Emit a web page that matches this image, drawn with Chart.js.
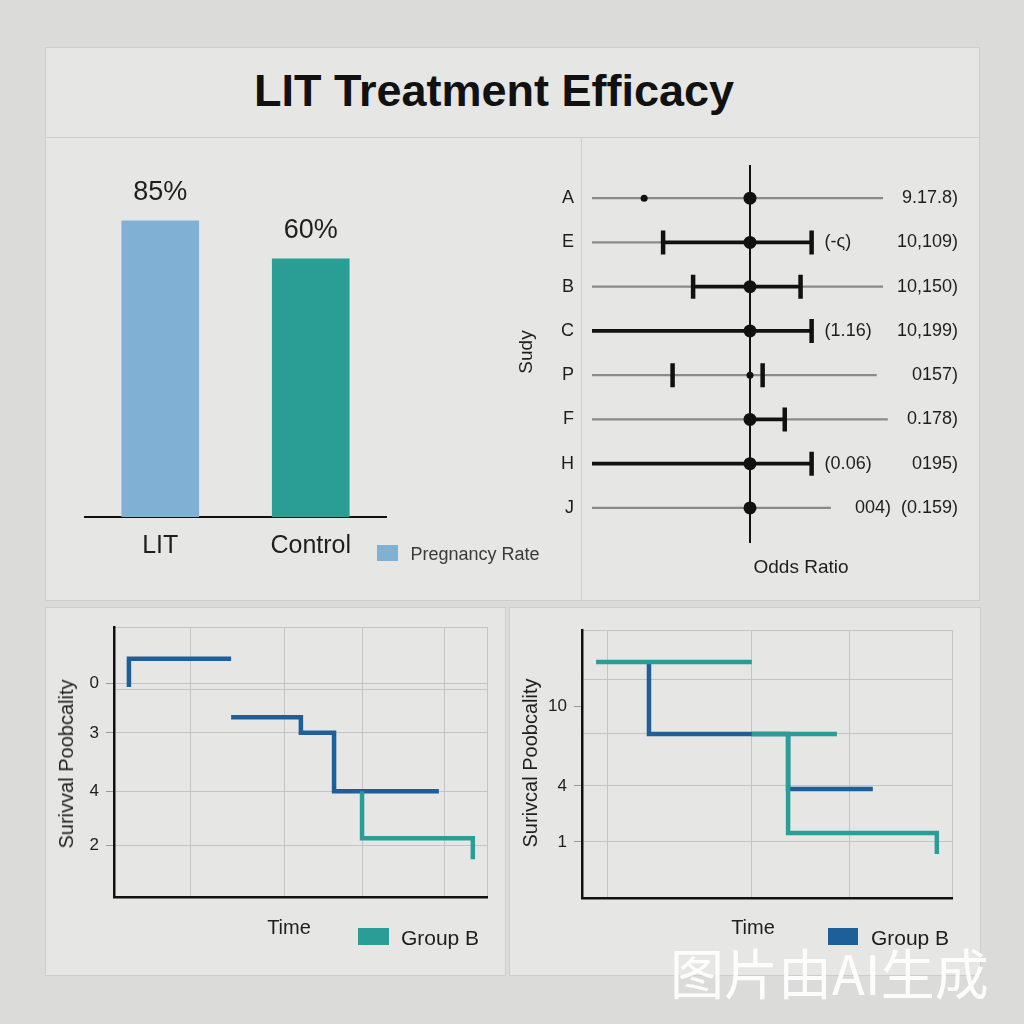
<!DOCTYPE html>
<html lang="en">
<head>
<meta charset="UTF-8">
<title>LIT Treatment Efficacy</title>
<script src="https://cdn.jsdelivr.net/npm/chart.js"></script>
<style>
    body {
        margin: 0;
        width: 1024px;
        height: 1024px;
        background: #dbdbda;
        font-family: 'Liberation Sans', Arial, sans-serif;
        color: #1e1e1e;
        position: relative;
        overflow: hidden;
    }
    .panel {
        position: absolute;
        background: #e6e6e4;
        border: 1px solid #cdcdcb;
        box-sizing: border-box;
    }
    .rule { position: absolute; background: #cdcdcb; }
    .txt {
        position: absolute;
        white-space: nowrap;
        line-height: 1;
        transform: translate(-50%, -50%);
    }
    .rot { transform: translate(-50%, -50%) rotate(-90deg); }
    .swatch { position: absolute; }
    canvas { position: absolute; }
    #title { left: 494px; top: 90px; font-size: 45px; font-weight: bold; color: #111; }
    #mark {
        position: absolute; left: 670px; top: 942px;
        font-family: 'Noto Sans CJK SC', sans-serif; font-size: 54px;
        color: rgba(255, 255, 255, 0.92); white-space: nowrap; line-height: 1.1;
    }
</style>
</head>
<body>

<div class="panel" style="left:45px; top:47px; width:935px; height:554px;"></div>
<div class="rule" style="left:46px; top:137px; width:933px; height:1px;"></div>
<div class="rule" style="left:581px; top:138px; width:1px; height:462px;"></div>
<div class="panel" style="left:45px; top:607px; width:461px; height:369px;"></div>
<div class="panel" style="left:509px; top:607px; width:472px; height:369px;"></div>

<div class="txt" id="title">LIT Treatment Efficacy</div>

<canvas id="barChart" width="534" height="461" style="left:46px; top:138px;"></canvas>
<canvas id="forestChart" width="479" height="461" style="left:500px; top:138px;"></canvas>
<canvas id="survLeft" width="458" height="366" style="left:46px; top:608px;"></canvas>
<canvas id="survRight" width="469" height="366" style="left:510px; top:608px;"></canvas>

<!-- legend + axis titles -->
<div class="swatch" style="left:377px; top:545px; width:21px; height:16px; background:#80b0d3;"></div>
<div class="txt" style="left:475px; top:554px; font-size:18px; color:#3a3a3a;">Pregnancy Rate</div>

<div class="txt rot" style="left:525px; top:352px; font-size:19px;">Sudy</div>
<div class="txt" style="left:801px; top:566px; font-size:19px;">Odds Ratio</div>

<div class="txt rot" style="left:66px; top:764px; font-size:20px;">Surivval Poobcality</div>
<div class="txt" style="left:289px; top:927px; font-size:20px;">Time</div>
<div class="swatch" style="left:358px; top:928px; width:31px; height:17px; background:#2a9d96;"></div>
<div class="txt" style="left:440px; top:937px; font-size:21px;">Group B</div>

<div class="txt rot" style="left:530px; top:763px; font-size:20px;">Surivcal Poobcality</div>
<div class="txt" style="left:753px; top:927px; font-size:20px;">Time</div>
<div class="swatch" style="left:828px; top:928px; width:30px; height:17px; background:#1f5f99;"></div>
<div class="txt" style="left:910px; top:937px; font-size:21px;">Group B</div>

<div id="mark">图片由AI生成</div>

<script>
    // bar panel
    const groups = ['LIT', 'Control'];
    const pregnancyRate = [85, 60];

    // forest panel
    const studies = ['A', 'E', 'B', 'C', 'P', 'F', 'H', 'J'];
    const oddsRatio = [1, 1, 1, 1, null, 1, 1, 1];
    const smallMarks = [{ study: 'A', value: 0.33 }, { study: 'P', value: 1.0 }];
    const refLow = [0, 0, 0, null, 0, 0, null, 0];
    const refHigh = [1.84, 0.45, 1.84, null, 1.80, 1.87, null, 1.51];
    const ciLow = [null, 0.45, 0.64, 0, null, 1.0, 0, null];
    const ciHigh = [null, 1.39, 1.32, 1.39, null, 1.22, 1.39, null];
    const capLow = [null, 0.45, 0.64, null, 0.51, null, null, null];
    const capHigh = [null, 1.39, 1.32, 1.39, 1.08, 1.22, 1.39, null];
    const ciNotes = [null, '(-ς)', null, '(1.16)', null, null, '(0.06)', null];
    const studyValues = ['9.17.8)', '10,109)', '10,150)', '10,199)', '0157)', '0.178)', '0195)', '004)  (0.159)'];
    const noEffect = 1;

    // survival panel, left
    const leftTimeA = [0.40, 0.40, 3.14, 3.14, 3.14, 5.01, 5.01, 5.90, 5.90, 8.71];
    const leftSurvA = [3.89, 4.41, 4.41, null, 3.33, 3.33, 3.04, 3.04, 1.96, 1.96];
    const leftTimeB = [6.65, 6.65, 9.62, 9.62];
    const leftSurvB = [1.96, 1.09, 1.09, 0.70];
    const leftTimeGrid = [2.06, 4.58, 6.65, 8.85, 10];
    const leftSurvGrid = [0.96, 1.96, 3.04, 3.85, 3.96, 5];
    const leftSurvTickPos = [0.96, 1.96, 3.04, 3.96];
    const leftSurvTickText = ['2', '4', '3', '0'];

    // survival panel, right
    const rightTimeA = [0.38, 4.59, 4.59, 4.59, 6.89, 6.89, 5.57, 5.57, 9.59, 9.59];
    const rightSurvA = [8.81, 8.81, null, 6.12, 6.12, null, 6.12, 2.43, 2.43, 1.64];
    const rightTimeB = [1.81, 1.81, 5.57, 5.57, 7.86];
    const rightSurvB = [8.81, 6.12, 6.12, 4.07, 4.07];
    const rightTimeGrid = [0.70, 4.59, 7.24, 10];
    const rightSurvGrid = [2.09, 4.18, 6.12, 8.17, 10];
    const rightSurvTickPos = [2.09, 4.18, 7.16];
    const rightSurvTickText = ['1', '4', '10'];

    const BLUE = '#1f5f99';
    const TEAL = '#2a9d96';
    const INK = '#1e1e1e';

    Chart.defaults.font.family = "'Liberation Sans', Arial, sans-serif";
    Chart.defaults.color = INK;

    // ---------- bar chart ----------
    const valueLabels = {
        id: 'valueLabels',
        afterDatasetsDraw(chart) {
            const ctx = chart.ctx;
            ctx.save();
            ctx.font = "27px 'Liberation Sans', Arial, sans-serif";
            ctx.fillStyle = INK;
            ctx.textAlign = 'center';
            ctx.textBaseline = 'middle';
            chart.getDatasetMeta(0).data.forEach((bar, i) => {
                ctx.fillText(pregnancyRate[i] + '%', bar.x, bar.y - 28);
            });
            ctx.restore();
        }
    };

    new Chart(document.getElementById('barChart'), {
        type: 'bar',
        data: {
            labels: groups,
            datasets: [{
                label: 'Pregnancy Rate',
                data: pregnancyRate,
                backgroundColor: ['#80b0d3', '#2a9d94'],
                base: -110,
                barThickness: 77
            }]
        },
        options: {
            responsive: false,
            animation: false,
            layout: { padding: { left: 39, right: 194, top: 22, bottom: 0 } },
            plugins: { legend: { display: false }, tooltip: { enabled: false } },
            scales: {
                x: {
                    grid: { display: false, drawTicks: false },
                    border: { display: true, color: '#111', width: 2 },
                    ticks: { font: { size: 25 }, color: INK, padding: 14 },
                    afterFit: s => { s.height = 82; }
                },
                y: { display: false, min: -110, max: 125 }
            }
        },
        plugins: [valueLabels]
    });

    // ---------- forest plot ----------
    const forestExtras = {
        id: 'forestExtras',
        beforeDatasetsDraw(chart) {
            const { ctx, chartArea, scales } = chart;
            const px = scales.x.getPixelForValue(noEffect);
            ctx.save();
            ctx.strokeStyle = '#111';
            ctx.lineWidth = 2;
            ctx.beginPath();
            ctx.moveTo(px, chartArea.top - 11);
            ctx.lineTo(px, chartArea.bottom + 13);
            ctx.stroke();
            ctx.restore();
        },
        afterDatasetsDraw(chart) {
            const { ctx, chartArea, scales } = chart;
            ctx.save();
            ctx.font = "18px 'Liberation Sans', Arial, sans-serif";
            ctx.fillStyle = INK;
            ctx.textBaseline = 'middle';
            studies.forEach((s, i) => {
                const py = scales.y.getPixelForValue(i);
                if (ciNotes[i]) {
                    ctx.textAlign = 'left';
                    ctx.fillText(ciNotes[i], scales.x.getPixelForValue(ciHigh[i]) + 13, py);
                }
                ctx.textAlign = 'right';
                ctx.fillText(studyValues[i], chartArea.right + 50, py);
            });
            ctx.restore();
        }
    };

    const pts = (vals) => vals.map((v, i) => v == null ? null : { x: v, y: studies[i] }).filter(p => p);

    new Chart(document.getElementById('forestChart'), {
        type: 'bar',
        data: {
            labels: studies,
            datasets: [
                {
                    type: 'line', showLine: false,
                    data: pts(oddsRatio),
                    pointRadius: 6.5, pointBackgroundColor: '#111', pointBorderWidth: 0
                },
                {
                    type: 'line', showLine: false,
                    data: smallMarks.map(m => ({ x: m.value, y: m.study })),
                    pointRadius: 3.5, pointBackgroundColor: '#111', pointBorderWidth: 0
                },
                {
                    type: 'line', showLine: false,
                    data: pts(capLow).concat(pts(capHigh)),
                    pointStyle: 'line', rotation: 90, pointRadius: 12,
                    pointBorderColor: '#111', pointBorderWidth: 4.5
                },
                {
                    type: 'bar', indexAxis: 'y', grouped: false,
                    data: ciLow.map((lo, i) => lo == null ? null : [lo, ciHigh[i]]),
                    backgroundColor: '#111', barThickness: 3
                },
                {
                    type: 'bar', indexAxis: 'y', grouped: false,
                    data: refLow.map((lo, i) => lo == null ? null : [lo, refHigh[i]]),
                    backgroundColor: '#8a8a8a', barThickness: 1.5
                }
            ]
        },
        options: {
            responsive: false,
            animation: false,
            layout: { padding: { left: 0, right: 71, top: 38, bottom: 69 } },
            plugins: { legend: { display: false }, tooltip: { enabled: false } },
            scales: {
                x: { type: 'linear', min: 0, max: 2, offset: false, display: false },
                y: {
                    type: 'category', offset: true,
                    grid: { display: false, drawTicks: false },
                    border: { display: false },
                    ticks: { font: { size: 18 }, color: INK, padding: 18 },
                    afterFit: s => { s.width = 92; }
                }
            }
        },
        plugins: [forestExtras]
    });

    // ---------- survival curves ----------
    function survivalChart(id, cfg) {
        const allY = Array.from(new Set(cfg.survGrid.concat(cfg.tickPos))).sort((a, b) => a - b);
        const line = (t, s, color) => ({
            type: 'line',
            data: t.map((v, i) => ({ x: v, y: s[i] })),
            borderColor: color, borderWidth: 4.5, pointRadius: 0,
            spanGaps: false, tension: 0, borderJoinStyle: 'miter', borderCapStyle: 'butt'
        });
        new Chart(document.getElementById(id), {
            type: 'line',
            data: { datasets: cfg.series.map(s => line(s.t, s.s, s.color)) },
            options: {
                responsive: false,
                animation: false,
                layout: { padding: cfg.padding },
                plugins: { legend: { display: false }, tooltip: { enabled: false } },
                scales: {
                    x: {
                        type: 'linear', min: 0, max: 10,
                        afterBuildTicks: s => { s.ticks = cfg.timeGrid.map(v => ({ value: v })); },
                        afterFit: s => { s.height = cfg.xHeight; },
                        ticks: { display: false },
                        grid: { color: '#c4c4c4', drawTicks: false },
                        border: { color: '#111', width: 2.5 }
                    },
                    y: {
                        type: 'linear', min: 0, max: cfg.yMax,
                        afterBuildTicks: s => { s.ticks = allY.map(v => ({ value: v })); },
                        afterFit: s => { s.width = cfg.yWidth; },
                        ticks: {
                            font: { size: 17 }, color: INK, padding: 7,
                            callback: v => {
                                const k = cfg.tickPos.indexOf(v);
                                return k >= 0 ? cfg.tickText[k] : '';
                            }
                        },
                        grid: {
                            color: c => (c.tick && cfg.survGrid.includes(c.tick.value)) ? '#c4c4c4' : 'rgba(0,0,0,0)',
                            tickColor: c => (c.tick && cfg.tickPos.includes(c.tick.value)) ? '#9a9a9a' : 'rgba(0,0,0,0)',
                            tickLength: 8
                        },
                        border: { color: '#111', width: 2.5 }
                    }
                }
            }
        });
    }

    survivalChart('survLeft', {
        series: [
            { t: leftTimeB, s: leftSurvB, color: TEAL },
            { t: leftTimeA, s: leftSurvA, color: BLUE }
        ],
        timeGrid: leftTimeGrid, survGrid: leftSurvGrid,
        tickPos: leftSurvTickPos, tickText: leftSurvTickText,
        yMax: 5, yWidth: 68, xHeight: 77,
        padding: { left: 0, right: 17, top: 19, bottom: 0 }
    });

    survivalChart('survRight', {
        series: [
            { t: rightTimeA, s: rightSurvA, color: TEAL },
            { t: rightTimeB, s: rightSurvB, color: BLUE }
        ],
        timeGrid: rightTimeGrid, survGrid: rightSurvGrid,
        tickPos: rightSurvTickPos, tickText: rightSurvTickText,
        yMax: 10, yWidth: 72, xHeight: 76,
        padding: { left: 0, right: 27, top: 22, bottom: 0 }
    });
</script>

</body>
</html>
